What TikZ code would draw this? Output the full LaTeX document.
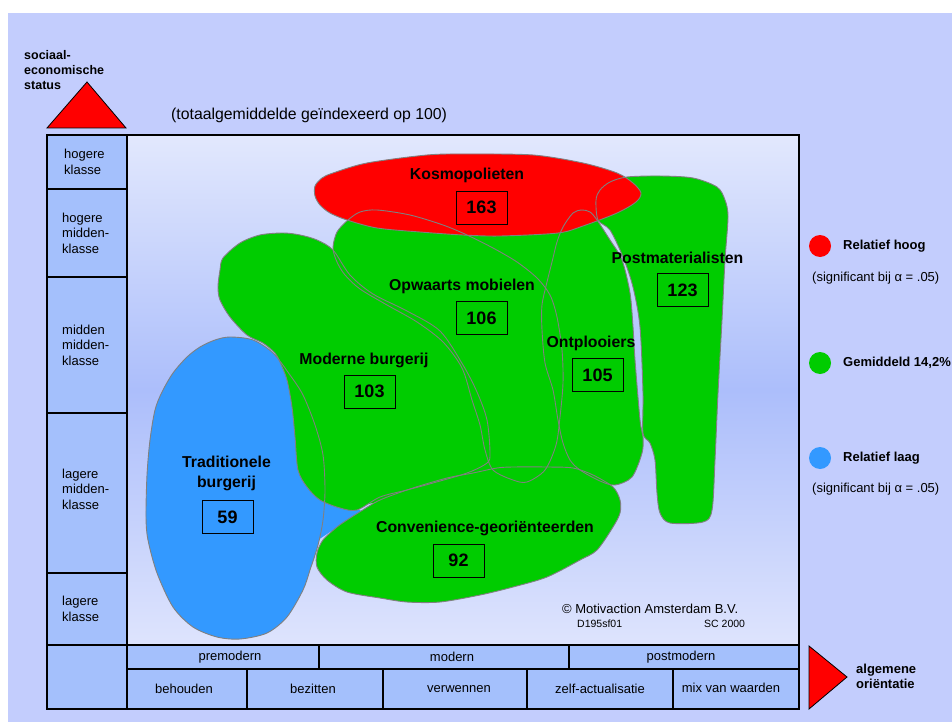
\documentclass[tikz,border=0pt]{standalone}
\usepackage{fontspec}
\setmainfont{Liberation Sans}
\definecolor{bgout}{RGB}{195,205,253}
\definecolor{cellc}{RGB}{164,192,252}
\definecolor{plottop}{RGB}{226,232,253}
\definecolor{plotmid}{RGB}{172,190,251}
\definecolor{plotbot}{RGB}{222,228,253}
\definecolor{kred}{RGB}{255,0,0}
\definecolor{kgreen}{RGB}{0,204,0}
\definecolor{kblue}{RGB}{51,153,255}
\definecolor{edgec}{RGB}{128,128,128}
\begin{document}
\begin{tikzpicture}[x=1pt,y=-1pt,
  grid/.style={draw=black,line width=1.2pt,fill=cellc},
  blob/.style={draw=edgec,line width=0.9pt},
  lab/.style={font=\fontsize{13}{15.5}\selectfont,inner sep=0pt},
  small/.style={font=\fontsize{10.5}{12}\selectfont,inner sep=0pt},
  blab/.style={font=\bfseries\fontsize{13}{15}\selectfont,inner sep=0pt},
  shapelab/.style={font=\bfseries\fontsize{15.8}{20}\selectfont,inner sep=0pt,align=center},
  numbox/.style={draw=black,line width=1pt,minimum width=51pt,minimum height=33pt,inner sep=0pt,font=\bfseries\fontsize{18}{20}\selectfont},
  tri/.style={fill=kred,draw=black,line width=0.8pt}]
\useasboundingbox (0,0) rectangle (952,722);
\fill[white] (0,0) rectangle (952,13);
\fill[bgout] (8,13) rectangle (952,722);
% plot area
\shade[top color=plottop,bottom color=plotbot,middle color=plotmid] (127,135) rectangle (799,645);

% ---- fills ----
\fill[kblue] plot[smooth cycle] coordinates {(230,337) (253,340) (273,353) (290,375) (303,395) (315,425) (323,455) (325,490) (323,520) (318,545) (310,570) (303,590) (287,617) (267,633) (240,639) (217,637) (193,627) (173,607) (157,573) (148,540) (146,517) (147,475) (150,440) (155,410) (162,392) (173,373) (187,357) (200,347) (215,340)};
\fill[kblue] (318,495) -- (362,511) -- (345,522) -- (318,540) -- cycle;

\fill[kgreen] plot[smooth cycle] coordinates {(220,270) (223,258) (240,243) (260,235) (283,233) (300,235) (317,240) (333,250) (350,275) (373,294) (407,311) (440,331) (463,365) (477,392) (487,420) (490,453) (487,463) (467,473) (433,483) (407,490) (380,497) (357,510) (340,508) (320,500) (307,487) (298,470) (295,437) (292,407) (287,380) (280,362) (275,353) (263,343) (247,335) (230,317) (220,300) (218,287)};
\fill[kgreen] plot[smooth cycle] coordinates {(333,248) (337,232) (348,220) (360,212) (377,210) (410,215) (443,225) (467,235) (493,248) (517,262) (537,278) (550,295) (557,317) (562,350) (563,383) (560,417) (556,445) (545,470) (527,482) (513,480) (493,470) (485,450) (480,425) (472,400) (462,368) (443,342) (417,322) (387,305) (360,289) (345,275) (337,262)};
\fill[kgreen] (350,219) -- (377,209) -- (585,210) -- (557,305) -- (520,262) -- (470,236) -- (420,230) -- cycle;
\fill[kgreen] (335,262) -- (360,232) -- (580,222) -- (600,230) -- (630,300) -- (640,430) -- (605,478) -- (560,470) -- (500,475) -- (420,492) -- (360,506) -- (325,495) -- (303,460) -- (295,400) -- (288,370) -- (300,330) -- cycle;
\fill[kgreen] plot[smooth cycle] coordinates {(563,227) (573,213) (582,210) (590,212) (597,220) (610,240) (622,260) (630,293) (633,327) (635,360) (640,420) (643,437) (642,453) (632,477) (615,485) (600,481) (580,470) (570,460) (563,443) (558,420) (553,390) (545,363) (542,330) (542,305) (547,282) (552,262) (557,242)};
\fill[kgreen] plot[smooth cycle] coordinates {(600,190) (610,182) (627,177) (660,176) (693,178) (717,187) (725,200) (728,217) (725,260) (722,320) (718,393) (715,460) (712,510) (703,522) (670,523) (660,513) (657,493) (655,460) (650,443) (643,433) (643,393) (640,327) (633,287) (623,257) (610,230) (598,220) (596,200)};
\fill[kgreen] plot[smooth cycle] coordinates {(358,513) (380,500) (413,488) (447,478) (473,473) (497,468) (513,467) (547,467) (573,468) (593,475) (613,487) (620,500) (620,513) (613,527) (597,550) (580,560) (547,577) (513,587) (480,595) (440,602) (407,602) (380,598) (347,592) (327,580) (317,567) (317,553) (323,540) (337,527) (347,520)};
\fill[kred] plot[smooth cycle] coordinates {(315,186) (322,178) (333,173) (367,163) (427,155) (467,154) (533,155) (583,163) (617,173) (633,183) (641,193) (636,202) (617,213) (583,226) (558,233) (500,236) (463,235) (420,232) (377,228) (347,220) (330,213) (320,205) (315,196)};

% ---- outlines ----
\draw[blob] plot[smooth cycle] coordinates {(230,337) (253,340) (273,353) (290,375) (303,395) (315,425) (323,455) (325,490) (323,520) (318,545) (310,570) (303,590) (287,617) (267,633) (240,639) (217,637) (193,627) (173,607) (157,573) (148,540) (146,517) (147,475) (150,440) (155,410) (162,392) (173,373) (187,357) (200,347) (215,340)};
\draw[blob] plot[smooth cycle] coordinates {(220,270) (223,258) (240,243) (260,235) (283,233) (300,235) (317,240) (333,250) (350,275) (373,294) (407,311) (440,331) (463,365) (477,392) (487,420) (490,453) (487,463) (467,473) (433,483) (407,490) (380,497) (357,510) (340,508) (320,500) (307,487) (298,470) (295,437) (292,407) (287,380) (280,362) (275,353) (263,343) (247,335) (230,317) (220,300) (218,287)};
\draw[blob] plot[smooth cycle] coordinates {(333,248) (337,232) (348,220) (360,212) (377,210) (410,215) (443,225) (467,235) (493,248) (517,262) (537,278) (550,295) (557,317) (562,350) (563,383) (560,417) (556,445) (545,470) (527,482) (513,480) (493,470) (485,450) (480,425) (472,400) (462,368) (443,342) (417,322) (387,305) (360,289) (345,275) (337,262)};
\draw[blob] plot[smooth cycle] coordinates {(563,227) (573,213) (582,210) (590,212) (597,220) (610,240) (622,260) (630,293) (633,327) (635,360) (640,420) (643,437) (642,453) (632,477) (615,485) (600,481) (580,470) (570,460) (563,443) (558,420) (553,390) (545,363) (542,330) (542,305) (547,282) (552,262) (557,242)};
\draw[blob] plot[smooth cycle] coordinates {(600,190) (610,182) (627,177) (660,176) (693,178) (717,187) (725,200) (728,217) (725,260) (722,320) (718,393) (715,460) (712,510) (703,522) (670,523) (660,513) (657,493) (655,460) (650,443) (643,433) (643,393) (640,327) (633,287) (623,257) (610,230) (598,220) (596,200)};
\draw[blob] plot[smooth cycle] coordinates {(358,513) (380,500) (413,488) (447,478) (473,473) (497,468) (513,467) (547,467) (573,468) (593,475) (613,487) (620,500) (620,513) (613,527) (597,550) (580,560) (547,577) (513,587) (480,595) (440,602) (407,602) (380,598) (347,592) (327,580) (317,567) (317,553) (323,540) (337,527) (347,520)};
\draw[blob] plot[smooth cycle] coordinates {(315,186) (322,178) (333,173) (367,163) (427,155) (467,154) (533,155) (583,163) (617,173) (633,183) (641,193) (636,202) (617,213) (583,226) (558,233) (500,236) (463,235) (420,232) (377,228) (347,220) (330,213) (320,205) (315,196)};

% ---- frame and axis cells ----
\draw[black,line width=1.2pt] (127,135) rectangle (799,645);
\draw[grid] (47,135) rectangle (127,189);
\draw[grid] (47,189) rectangle (127,277);
\draw[grid] (47,277) rectangle (127,413);
\draw[grid] (47,413) rectangle (127,573);
\draw[grid] (47,573) rectangle (127,645);
\draw[grid] (47,645) rectangle (127,709);
\draw[grid] (127,645) rectangle (319,669);
\draw[grid] (319,645) rectangle (569,669);
\draw[grid] (569,645) rectangle (799,669);
\draw[grid] (127,669) rectangle (247,709);
\draw[grid] (247,669) rectangle (383,709);
\draw[grid] (383,669) rectangle (527,709);
\draw[grid] (527,669) rectangle (673,709);
\draw[grid] (673,669) rectangle (799,709);

% triangles
\draw[tri] (87,82) -- (126,128) -- (47,128) -- cycle;
\draw[tri] (809,646) -- (847,677) -- (809,709) -- cycle;

% ---- texts ----
\node[blab,anchor=west,align=left,font=\bfseries\fontsize{12.5}{15}\selectfont] (ses) at (24,70) {sociaal-\\economische\\status};
\node[lab,anchor=west,font=\fontsize{15.8}{18}\selectfont] (title) at (171,115) {(totaalgemiddelde geïndexeerd op 100)};

\node[lab,anchor=west,align=left,font=\fontsize{13}{16}\selectfont] (r1) at (64,162) {hogere\\klasse};
\node[lab,anchor=west,align=left] (r2) at (62,233) {hogere\\midden-\\klasse};
\node[lab,anchor=west,align=left] (r3) at (62,345) {midden\\midden-\\klasse};
\node[lab,anchor=west,align=left] (r4) at (62,489) {lagere\\midden-\\klasse};
\node[lab,anchor=west,align=left,font=\fontsize{13}{16}\selectfont] (r5) at (62,609) {lagere\\klasse};

\node[lab] (c1) at (230,657) {premodern};
\node[lab] (c2) at (452,657) {modern};
\node[lab] (c3) at (681,657) {postmodern};
\node[lab] (d1) at (184,689) {behouden};
\node[lab] (d2) at (313,689) {bezitten};
\node[lab] (d3) at (459,689) {verwennen};
\node[lab] (d4) at (600,689) {zelf-actualisatie};
\node[lab] (d5) at (731,688) {mix van waarden};

\node[blab,anchor=west,align=left] (ao) at (856,676.5) {algemene\\oriëntatie};

% legend
\fill[kred] (820,246) circle[radius=11pt];
\fill[kgreen] (820,363) circle[radius=11pt];
\fill[kblue] (820,458) circle[radius=11pt];
\node[blab,anchor=west] (lg1) at (843,246) {Relatief hoog};
\node[lab,anchor=west] (lg1s) at (812,278) {(significant bij α = .05)};
\node[blab,anchor=west] (lg2) at (843,363) {Gemiddeld 14,2\%};
\node[blab,anchor=west] (lg3) at (843,458) {Relatief laag};
\node[lab,anchor=west] (lg3s) at (812,489) {(significant bij α = .05)};

% copyright
\node[lab,anchor=west] (copy) at (562,609) {© Motivaction Amsterdam B.V.};
\node[small,anchor=west] (code) at (577,624) {D195sf01};
\node[small,anchor=west] (sc) at (704,624) {SC 2000};

% segment labels
\node[shapelab] (kosl) at (467,175) {Kosmopolieten};
\node[numbox] (kosn) at (481.5,207.5) {163};
\node[shapelab] (opwl) at (462,286) {Opwaarts mobielen};
\node[numbox] (opwn) at (481.5,318) {106};
\node[shapelab] (modl) at (364,360) {Moderne burgerij};
\node[numbox] (modn) at (369.5,391.5) {103};
\node[shapelab] (ontl) at (591,343) {Ontplooiers};
\node[numbox] (ontn) at (597.5,375) {105};
\node[shapelab] (posl) at (677.5,258) {Postmaterialisten};
\node[numbox] (posn) at (682.5,290) {123};
\node[shapelab,font=\bfseries\fontsize{15.8}{20}\selectfont] (tral) at (226.5,473) {Traditionele\\burgerij};
\node[numbox] (tran) at (227.5,517) {59};
\node[shapelab] (conl) at (485,528) {Convenience-georiënteerden};
\node[numbox] (conn) at (458.5,560.5) {92};
\end{tikzpicture}
\end{document}
